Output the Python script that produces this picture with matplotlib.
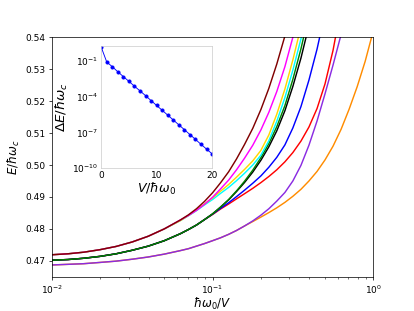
import matplotlib
matplotlib.use("Agg")
import matplotlib.pyplot as plt

# main-panel data: hbar*omega0/V  vs  E/hbar*omega_c
x_grid = [0.01, 0.0126, 0.0158, 0.02, 0.0251, 0.0316, 0.0398, 0.0501, 0.0631, 0.0708, 0.0794,
          0.0891, 0.1, 0.112, 0.126, 0.141, 0.158, 0.178, 0.2, 0.224, 0.251, 0.282, 0.316,
          0.355, 0.398, 0.447, 0.501, 0.562, 0.631, 0.708, 0.794, 0.891, 1.0]

E_maroon = [0.4719, 0.4722, 0.4727, 0.4735, 0.4745, 0.4759, 0.4777, 0.4800, 0.4828,
            0.4844, 0.4863, 0.4886, 0.4913, 0.4944, 0.4979, 0.5019, 0.5064, 0.5115, 0.5174,
            0.5240, 0.5316, 0.5404, 0.5505]
E_magenta = [0.4719, 0.4722, 0.4727, 0.4735, 0.4745, 0.4759, 0.4777, 0.4800, 0.4828,
             0.4842, 0.4858, 0.4877, 0.4899, 0.4925, 0.4953, 0.4985, 0.5021, 0.5062, 0.5110,
             0.5165, 0.5230, 0.5308, 0.5400, 0.5510]
E_gold = [0.4719, 0.4722, 0.4727, 0.4735, 0.4745, 0.4759, 0.4777, 0.4800, 0.4826,
          0.4842, 0.4859, 0.4878, 0.4897, 0.4918, 0.4939, 0.4962, 0.4986, 0.5013, 0.5046,
          0.5094, 0.5159, 0.5238, 0.5329, 0.5433, 0.5551]
E_cyan = [0.4719, 0.4722, 0.4727, 0.4735, 0.4745, 0.4759, 0.4777, 0.4800, 0.4826,
          0.4841, 0.4857, 0.4875, 0.4892, 0.4911, 0.4930, 0.4951, 0.4974, 0.5000, 0.5031,
          0.5076, 0.5137, 0.5211, 0.5297, 0.5395, 0.5506]
E_green = [0.4702, 0.4704, 0.4708, 0.4714, 0.4722, 0.4733, 0.4746, 0.4763, 0.4785,
           0.4798, 0.4812, 0.4829, 0.4847, 0.4868, 0.4892, 0.4919, 0.4949, 0.4984, 0.5023,
           0.5067, 0.5120, 0.5186, 0.5268, 0.5364, 0.5473]
E_black = [0.4702, 0.4704, 0.4708, 0.4714, 0.4722, 0.4733, 0.4746, 0.4763, 0.4785,
           0.4798, 0.4812, 0.4829, 0.4847, 0.4868, 0.4891, 0.4917, 0.4945, 0.4978, 0.5015,
           0.5057, 0.5107, 0.5170, 0.5246, 0.5335, 0.5437, 0.5550]
E_blue = [0.4702, 0.4704, 0.4708, 0.4714, 0.4722, 0.4733, 0.4746, 0.4763, 0.4785,
          0.4798, 0.4812, 0.4829, 0.4846, 0.4864, 0.4882, 0.4901, 0.4921, 0.4943, 0.4966,
          0.4993, 0.5024, 0.5063, 0.5116, 0.5183, 0.5266, 0.5363, 0.5476]
E_red = [0.4702, 0.4704, 0.4708, 0.4714, 0.4722, 0.4733, 0.4746, 0.4763, 0.4785,
         0.4798, 0.4812, 0.4829, 0.4845, 0.4862, 0.4878, 0.4894, 0.4910, 0.4927, 0.4945,
         0.4964, 0.4985, 0.5010, 0.5039, 0.5075, 0.5119, 0.5177, 0.5254, 0.5359, 0.5494]
E_purple = [0.4687, 0.4689, 0.4691, 0.4695, 0.4699, 0.4705, 0.4712, 0.4721, 0.4732,
            0.4738, 0.4746, 0.4754, 0.4763, 0.4772, 0.4783, 0.4795, 0.4809, 0.4825, 0.4843,
            0.4863, 0.4887, 0.4914, 0.4950, 0.4999, 0.5062, 0.5138, 0.5223, 0.5313, 0.5409,
            0.5514]
E_orange = [0.4687, 0.4689, 0.4691, 0.4695, 0.4699, 0.4705, 0.4712, 0.4721, 0.4732,
            0.4738, 0.4746, 0.4754, 0.4763, 0.4772, 0.4783, 0.4795, 0.4809, 0.4823, 0.4837,
            0.4851, 0.4866, 0.4883, 0.4902, 0.4924, 0.4950, 0.4980, 0.5016, 0.5059, 0.5112,
            0.5175, 0.5245, 0.5325, 0.5420]

# inset data: V/hbar*omega0 vs Delta E/hbar*omega_c
V_vals = [0, 1, 2, 3, 4, 5, 6, 7, 8, 9, 10, 11, 12, 13, 14, 15, 16, 17, 18, 19, 20]
dE_vals = [1.4, 7.9e-2, 3.2e-2, 1.2e-2, 4.7e-3, 1.9e-3, 7.4e-4, 3.0e-4, 1.2e-4, 4.6e-5, 1.8e-5,
           7.1e-6, 2.8e-6, 1.1e-6, 4.3e-7, 1.7e-7, 6.6e-8, 2.6e-8, 1.0e-8, 4.0e-9, 1.6e-9]

series = [
    (E_orange, 'darkorange'),
    (E_purple, 'blueviolet'),
    (E_red, 'red'),
    (E_blue, 'blue'),
    (E_black, 'black'),
    (E_green, 'green'),
    (E_cyan, 'cyan'),
    (E_gold, 'gold'),
    (E_magenta, 'magenta'),
    (E_maroon, 'maroon'),
]

fig = plt.figure(figsize=(6.4, 4.8), dpi=64.8)
ax = fig.add_subplot(111)
for E, c in series:
    ax.plot(x_grid[:len(E)], E, color=c, lw=1.6)
ax.set_xscale('log')
ax.set_xlim(1e-2, 1.0)
ax.set_ylim(0.465, 0.54)
ax.set_yticks([0.47, 0.48, 0.49, 0.50, 0.51, 0.52, 0.53, 0.54])
ax.set_yticklabels(['0.47', '0.48', '0.49', '0.50', '0.51', '0.52', '0.53', '0.54'])
ax.set_xlabel(r'$\hbar\omega_0/V$', fontsize=13, labelpad=0)
ax.set_ylabel(r'$E/\hbar\omega_c$', fontsize=13)

ins = fig.add_axes([0.244, 0.459, 0.2675, 0.394])
ins.plot(V_vals, dE_vals, color='blue', marker='o', ms=3.5, lw=1)
ins.set_yscale('log')
ins.set_xlim(0, 20)
ins.set_ylim(1e-10, 1.84)
ins.set_yticks([1e-1, 1e-4, 1e-7, 1e-10])
ins.minorticks_off()
ins.set_xticks([0, 10, 20])
ins.tick_params(length=0, pad=3)
for s in ins.spines.values():
    s.set_color('#cccccc')
ins.set_xlabel(r'$V/\hbar\omega_0$', fontsize=14, labelpad=1)
ins.set_ylabel(r'$\Delta E/\hbar\omega_c$', fontsize=15, labelpad=2)

fig.savefig('out.png', dpi=64.8)
